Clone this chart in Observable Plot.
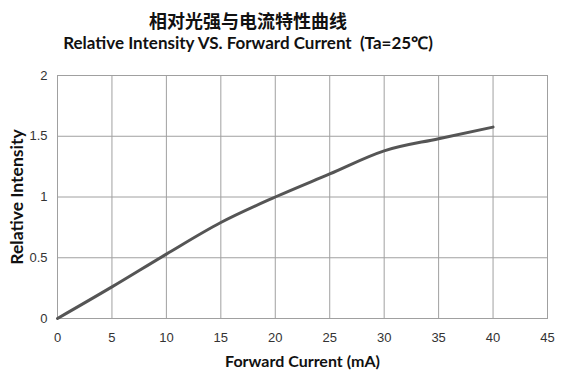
<!DOCTYPE html>
<html>
<head>
<meta charset="utf-8">
<script src="https://cdn.jsdelivr.net/npm/d3@7"></script>
<script src="https://cdn.jsdelivr.net/npm/@observablehq/plot@0.6"></script>
<style>
  html, body { margin: 0; padding: 0; background: #fff; }
  #wrap { position: relative; width: 577px; height: 377px; overflow: hidden; }
  .t1 { position: absolute; left: 48px; width: 400px; top: 7px; text-align: center;
        font-family: "Noto Sans CJK SC", sans-serif; font-weight: 700; font-size: 18px; line-height: 26px; color: #111; }
  .t2 { position: absolute; left: 48px; width: 400px; top: 32px; text-align: center;
        font-family: Lato, sans-serif; font-weight: 700; font-size: 17px; line-height: 22px; color: #111; white-space: pre; }
  #chart { position: absolute; left: 0; top: 60px; }
  #chart svg { overflow: visible; }
  #chart [aria-label="x-axis tick label"] text, #chart [aria-label="y-axis tick label"] text {
    font-family: "Liberation Sans", sans-serif; font-size: 13px; fill: #333; }
  #chart [aria-label="x-axis label"] text {
    font-family: Lato, sans-serif; font-weight: 700; font-size: 16px; fill: #111; }
  #chart [aria-label="y-axis label"] text {
    font-family: Lato, sans-serif; font-weight: 700; font-size: 17.5px; fill: #111; }
</style>
</head>
<body>
<div id="wrap">
  <div class="t1">相对光强与电流特性曲线</div>
  <div class="t2">Relative Intensity VS. Forward Current  (Ta=25℃)</div>
  <div id="chart"></div>
</div>
<script>
const current = [0, 5, 10, 15, 20, 25, 30, 35, 40];
const intensity = [0, 0.26, 0.53, 0.79, 1.0, 1.19, 1.38, 1.48, 1.575];
const xTicks = [0, 5, 10, 15, 20, 25, 30, 35, 40, 45];
const yTicks = [0, 0.5, 1, 1.5, 2];
const yTickLabels = ["0", "0.5", "1", "1.5", "2"];

const data = current.map((c, i) => ({current: c, intensity: intensity[i]}));

const chart = Plot.plot({
  width: 577,
  height: 317,
  marginTop: 15,
  marginBottom: 59,
  marginLeft: 57,
  marginRight: 30,
  style: {background: "transparent"},
  x: {domain: [0, 45]},
  y: {domain: [0, 2]},
  marks: [
    Plot.gridX(xTicks, {stroke: "#a0a0a0", strokeOpacity: 1}),
    Plot.gridY(yTicks, {stroke: "#a0a0a0", strokeOpacity: 1}),
    Plot.frame({stroke: "#a0a0a0"}),
    Plot.axisX(xTicks, {tickSize: 0, tickPadding: 14, label: "Forward Current (mA)", labelAnchor: "center", labelArrow: "none", labelOffset: 48}),
    Plot.axisY(yTicks, {tickSize: 0, tickPadding: 10, tickFormat: (d, i) => yTickLabels[i], label: "Relative Intensity", labelAnchor: "center", labelArrow: "none", labelOffset: 47}),
    Plot.line(data, {x: "current", y: "intensity", curve: "monotone-x", stroke: "#555", strokeWidth: 3})
  ]
});
document.getElementById("chart").appendChild(chart);
</script>
</body>
</html>
